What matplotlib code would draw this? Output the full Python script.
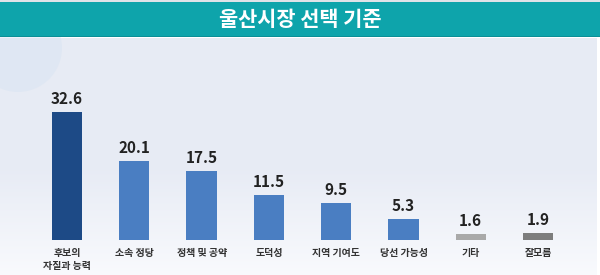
import matplotlib
matplotlib.use("Agg")
import matplotlib.pyplot as plt
import numpy as np
from matplotlib.patches import Rectangle, Circle

plt.rcParams['font.family'] = ['Noto Sans CJK KR', 'DejaVu Sans']

title = "울산시장 선택 기준"
categories = ["후보의\n자질과 능력", "소속 정당", "정책 및 공약", "도덕성", "지역 기여도", "당선 가능성", "기타", "잘모름"]
values = [32.6, 20.1, 17.5, 11.5, 9.5, 5.3, 1.6, 1.9]
value_labels = ["32.6", "20.1", "17.5", "11.5", "9.5", "5.3", "1.6", "1.9"]
colors = ["#1d4a86", "#4a7ec2", "#4a7ec2", "#4a7ec2", "#4a7ec2", "#4a7ec2", "#a9a9a9", "#7d7d7d"]

W, H = 600, 275
fig = plt.figure(figsize=(6, 2.75), dpi=100)

# background gradient
bg = fig.add_axes([0, 0, 1, 1])
bg.set_xlim(0, W); bg.set_ylim(H, 0); bg.axis('off')
grad = np.linspace(0, 1, 256).reshape(-1, 1)
top = np.array([0.906, 0.922, 0.960])
bot = np.array([0.975, 0.980, 0.992])
img = top + (bot - top) * np.clip((grad - 0.55) / 0.45, 0, 1)[..., None] * 1.0
img = img.reshape(256, 1, 3)
bg.imshow(img, extent=[0, W, H, 38], aspect='auto', zorder=0)
bg.add_patch(Circle((18, 48), 44, color="#d6e3f2", alpha=0.45, zorder=1, lw=0))
bg.add_patch(Rectangle((0, 0), W, 2, color="#dfe3e8", zorder=2, lw=0))
bg.add_patch(Rectangle((0, 2), W, 35, color="#0ea4ab", zorder=2, lw=0))
bg.add_patch(Rectangle((0, 35.5), W, 1.5, color="#0b8f96", zorder=3, lw=0))
bg.add_patch(Rectangle((597, 38), 3, H - 38, color="#ffffff", zorder=3, lw=0))
bg.text(300, 19, title, color="white", fontsize=15, fontweight='bold',
        ha='center', va='center', zorder=4)

# chart axes
spacing = 67.29
x0 = 67
px_per_unit = 3.93
base_y = 240
top_y = 38
ax = fig.add_axes([0, (H - base_y) / H, 1, (base_y - top_y) / H])
ax.patch.set_alpha(0)
ax.set_xlim(-x0 / spacing, 7 + (W - (x0 + 7 * spacing)) / spacing)
ax.set_ylim(0, (base_y - top_y) / px_per_unit)
ax.axis('off')

xs = np.arange(len(values))
ax.bar(xs, values, width=0.45, color=colors, zorder=3)
for x, v, lab in zip(xs, values, value_labels):
    ax.annotate(lab, (x, v), xytext=(0, 3.5), textcoords='offset points',
                ha='center', va='bottom', fontsize=11, fontweight='bold', color="#222222")
for x, c in zip(xs, categories):
    ax.annotate(c, (x, 0), xytext=(0, -6), textcoords='offset points',
                ha='center', va='top', fontsize=7.2, fontweight='bold', color="#333333",
                linespacing=1.3, annotation_clip=False)

fig.savefig("out.png", dpi=100)
